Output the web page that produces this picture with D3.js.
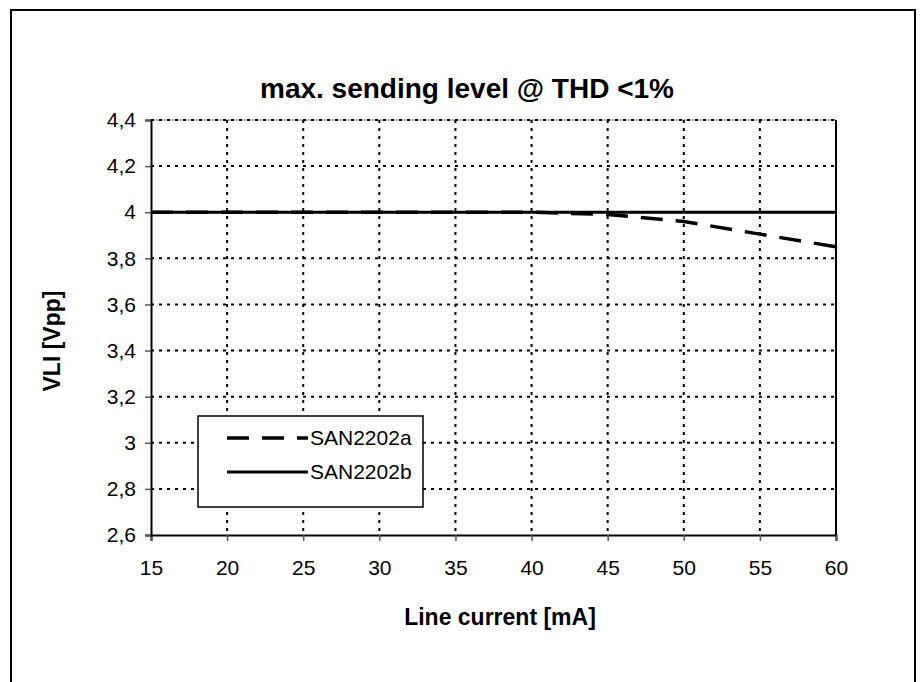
<!DOCTYPE html>
<html>
<head>
<meta charset="utf-8">
<script src="https://cdn.jsdelivr.net/npm/d3@7"></script>
<style>
    body { margin: 0; background: #fff; }
    text { font-family: "Liberation Sans", Arial, sans-serif; }
</style>
</head>
<body>
<div id="draw"></div>
<script>
// data
var current = [15, 20, 25, 30, 35, 40, 45, 50, 55, 60];            // Line current [mA]
var san2202a = [4.0, 4.0, 4.0, 4.0, 4.0, 4.0, 3.99, 3.96, 3.905, 3.85];
var san2202b = [4.0, 4.0, 4.0, 4.0, 4.0, 4.0, 4.0, 4.0, 4.0, 4.0];
var xTicks = [15, 20, 25, 30, 35, 40, 45, 50, 55, 60];
var yTicks = [2.6, 2.8, 3.0, 3.2, 3.4, 3.6, 3.8, 4.0, 4.2, 4.4];
var seriesNames = ["SAN2202a", "SAN2202b"];

var w = 923, h = 682;
var pLeft = 151, pRight = 836, pTop = 120, pBottom = 535;   // plot area

var svg = d3.select("#draw")
    .append("svg")
    .attr("width", w)
    .attr("height", h);

// outer frame
svg.append("rect")
    .attr("x", 11).attr("y", 10)
    .attr("width", 904).attr("height", 700)
    .attr("fill", "none")
    .attr("stroke", "black")
    .attr("stroke-width", 2);

var x = d3.scaleLinear().domain([15, 60]).range([pLeft, pRight]);
var y = d3.scaleLinear().domain([2.6, 4.4]).range([pBottom, pTop]);
var comma = d3.formatLocale({decimal: ",", thousands: ".", grouping: [3], currency: ["", ""]});
var fmt = function(d) { return comma.format("~g")(d); };

// plot top border (thin gray)
svg.append("line")
    .attr("x1", pLeft).attr("x2", pRight)
    .attr("y1", pTop).attr("y2", pTop)
    .attr("stroke", "#888")
    .attr("stroke-width", 1);

// grid - dotted
svg.append("g")
    .selectAll("line")
    .data(yTicks.slice(1))
    .enter()
    .append("line")
    .attr("x1", pLeft).attr("x2", pRight)
    .attr("y1", function(d) { return y(d); })
    .attr("y2", function(d) { return y(d); })
    .attr("stroke", "black")
    .attr("stroke-width", 2)
    .attr("stroke-dasharray", "3,5");
svg.append("g")
    .selectAll("line")
    .data(xTicks.slice(1, -1))
    .enter()
    .append("line")
    .attr("y1", pTop).attr("y2", pBottom)
    .attr("x1", function(d) { return x(d); })
    .attr("x2", function(d) { return x(d); })
    .attr("stroke", "black")
    .attr("stroke-width", 2)
    .attr("stroke-dasharray", "3,5");

// right edge of plot
svg.append("line")
    .attr("x1", pRight).attr("x2", pRight)
    .attr("y1", pTop).attr("y2", pBottom)
    .attr("stroke", "black")
    .attr("stroke-width", 2);

// axes
var xAxis = svg.append("g")
    .attr("transform", "translate(0," + pBottom + ")")
    .call(d3.axisBottom(x).tickValues(xTicks).tickSize(6).tickPadding(19));
var yAxis = svg.append("g")
    .attr("transform", "translate(" + pLeft + ",0)")
    .call(d3.axisLeft(y).tickValues(yTicks).tickFormat(fmt).tickSize(6).tickPadding(9));
[xAxis, yAxis].forEach(function(a) {
    a.select(".domain").attr("stroke", "black").attr("stroke-width", 2);
    a.selectAll(".tick line").attr("stroke", "#555").attr("stroke-width", 1.5);
    a.selectAll(".tick text")
        .attr("font-family", "Liberation Sans, Arial, sans-serif")
        .attr("font-size", "21px")
        .attr("fill", "black");
});

// series lines
var line = d3.line()
    .x(function(d) { return x(d[0]); })
    .y(function(d) { return y(d[1]); });
svg.append("path")
    .datum(d3.zip(current, san2202b))
    .attr("d", line)
    .attr("fill", "none")
    .attr("stroke", "black")
    .attr("stroke-width", 3);
svg.append("path")
    .datum(d3.zip(current, san2202a))
    .attr("d", line)
    .attr("fill", "none")
    .attr("stroke", "black")
    .attr("stroke-width", 3.5)
    .attr("stroke-dasharray", "22,13");

// titles
svg.append("text")
    .text("max. sending level @ THD <1%")
    .attr("x", 467).attr("y", 98)
    .attr("text-anchor", "middle")
    .attr("font-weight", "bold")
    .attr("font-size", "28px");
svg.append("text")
    .text("Line current [mA]")
    .attr("x", 500).attr("y", 625)
    .attr("text-anchor", "middle")
    .attr("font-weight", "bold")
    .attr("font-size", "23px");
svg.append("text")
    .text("VLI [Vpp]")
    .attr("transform", "translate(60,341) rotate(-90)")
    .attr("text-anchor", "middle")
    .attr("font-weight", "bold")
    .attr("font-size", "23px");

// legend
var lg = svg.append("g");
lg.append("rect")
    .attr("x", 198).attr("y", 416)
    .attr("width", 225).attr("height", 91)
    .attr("fill", "white")
    .attr("stroke", "black")
    .attr("stroke-width", 1.5);
lg.selectAll("line")
    .data(seriesNames)
    .enter()
    .append("line")
    .attr("x1", 227).attr("x2", 308)
    .attr("y1", function(d, i) { return 438 + i * 34; })
    .attr("y2", function(d, i) { return 438 + i * 34; })
    .attr("stroke", "black")
    .attr("stroke-width", function(d, i) { return i === 0 ? 3.5 : 3; })
    .attr("stroke-dasharray", function(d, i) { return i === 0 ? "22,13" : null; });
lg.selectAll("text")
    .data(seriesNames)
    .enter()
    .append("text")
    .text(function(d) { return d; })
    .attr("x", 310)
    .attr("y", function(d, i) { return 445 + i * 34; })
    .attr("font-size", "21px");
</script>
</body>
</html>
